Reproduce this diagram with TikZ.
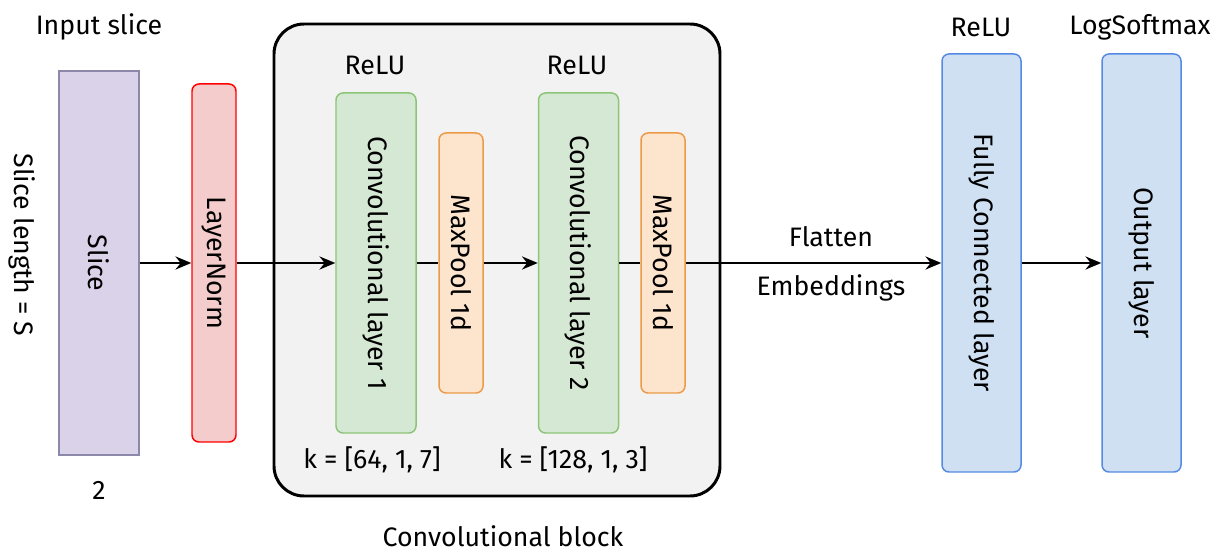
\documentclass[tikz,border=0pt]{standalone}
\usepackage{fontspec}
\setmainfont{Fira Sans}
\usepackage{tikz}
\usetikzlibrary{arrows.meta,positioning}
\definecolor{SliceF}{RGB}{218,210,232}
\definecolor{SliceD}{RGB}{140,136,170}
\definecolor{NormF}{RGB}{244,204,204}
\definecolor{NormD}{RGB}{255,0,0}
\definecolor{ConvF}{RGB}{213,232,212}
\definecolor{ConvD}{RGB}{140,196,120}
\definecolor{PoolF}{RGB}{252,228,205}
\definecolor{PoolD}{RGB}{236,154,72}
\definecolor{DenseF}{RGB}{207,224,243}
\definecolor{DenseD}{RGB}{84,138,228}
\definecolor{BlockF}{RGB}{242,242,242}
\newcommand{\lbl}{\fontsize{15.2}{18}\selectfont}
\tikzset{
  layer/.style={draw,rounded corners=4pt,line width=0.85pt,inner sep=0pt,
                font=\lbl,rotate=-90},
  slicebox/.style={layer,rounded corners=0pt,draw=SliceD,fill=SliceF,line width=1.2pt,
                   minimum width=7.68cm,minimum height=1.6cm},
  normbox/.style={layer,draw=NormD,fill=NormF,minimum width=7.16cm,minimum height=0.88cm},
  convbox/.style={layer,draw=ConvD,fill=ConvF,minimum width=6.8cm,minimum height=1.6cm},
  poolbox/.style={layer,draw=PoolD,fill=PoolF,minimum width=5.2cm,minimum height=0.88cm},
  densebox/.style={layer,draw=DenseD,fill=DenseF,minimum width=8.36cm,minimum height=1.58cm},
  flow/.style={-{Stealth[length=9pt,width=7.5pt,inset=3pt]},line width=1.15pt},
  link/.style={line width=1.15pt},
  txt/.style={font=\lbl,inner sep=0pt},
}
\begin{document}
\begin{tikzpicture}
  \useasboundingbox (0,0) rectangle (24.38,11.08);
  % convolutional block
  \node[draw,line width=1.7pt,fill=BlockF,rounded corners=0.6cm,
        minimum width=8.92cm,minimum height=9.44cm] (block) at (9.94,5.88) {};

  \node[slicebox] (slice) at (1.98,5.82) {Slice};
  \node[normbox] (ln) at (4.28,5.82) {LayerNorm};
  \node[convbox] (conv1) at (7.52,5.82) {Convolutional layer 1};
  \node[poolbox] (mp1) at (9.22,5.82) {MaxPool 1d};
  \node[convbox] (conv2) at (11.57,5.82) {Convolutional layer 2};
  \node[poolbox] (mp2) at (13.26,5.82) {MaxPool 1d};
  \node[densebox] (fc) at (19.63,5.82) {Fully Connected layer};
  \node[densebox] (out) at (22.83,5.82) {Output layer};

  \draw[flow] (slice) -- (ln);
  \draw[flow] (ln) -- (conv1);
  \draw[link] (conv1) -- (mp1);
  \draw[flow] (mp1) -- (conv2);
  \draw[link] (conv2) -- (mp2);
  \draw[flow] (mp2) -- (fc);
  \draw[flow] (fc) -- (out);

  \node[txt] (insl) at (1.98,10.54) {Input slice};
  \node[txt] (two) at (1.98,1.28) {2};
  \node[txt,rotate=-90] (slen) at (0.44,6.18) {Slice length = S};
  \node[txt] (act1) at (7.50,9.78) {ReLU};
  \node[txt] (act2) at (11.54,9.78) {ReLU};
  \node[txt] (k1) at (7.44,1.88) {k = [64, 1, 7]};
  \node[txt] (k2) at (11.46,1.88) {k = [128, 1, 3]};
  \node[txt] (blk) at (10.06,0.35) {Convolutional block};
  \node[txt] (flat) at (16.62,6.34) {Flatten};
  \node[txt] (emb) at (16.62,5.32) {Embeddings};
  \node[txt] (act3) at (19.62,10.54) {ReLU};
  \node[txt] (lsm) at (22.80,10.54) {LogSoftmax};
\end{tikzpicture}
\end{document}
